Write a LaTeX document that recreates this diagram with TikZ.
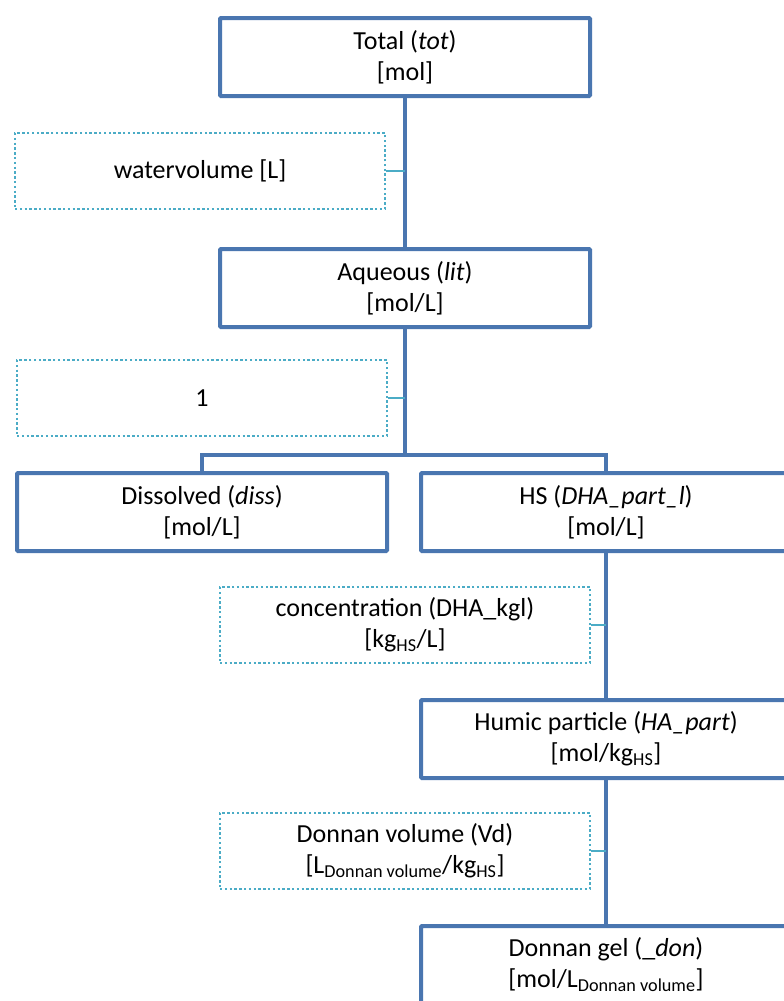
\documentclass[tikz,border=0pt]{standalone}
\usepackage{fontspec}
\setmainfont{Carlito}
\definecolor{mainblue}{RGB}{74,118,176}
\definecolor{dotblue}{RGB}{75,172,198}
\tikzset{
  mainbox/.style={draw=mainblue, line width=4pt, fill=white, rounded corners=1pt,
    minimum width=370pt, minimum height=78pt, align=center, inner sep=0pt,
    font=\fontsize{26}{31}\selectfont},
  dotbox/.style={draw=dotblue, line width=2.6pt, dash pattern=on 2.4pt off 2.4pt, fill=white,
    minimum width=370pt, minimum height=76pt, align=center, inner sep=0pt,
    font=\fontsize{26}{31}\selectfont},
  mainline/.style={draw=mainblue, line width=4pt},
  thinline/.style={draw=dotblue, line width=1.8pt}
}
\newcommand{\sbs}[1]{\textsubscript{#1}}
\begin{document}
\begin{tikzpicture}[x=1pt,y=-1pt]
\useasboundingbox (0,0) rectangle (784,1001);
\clip (0,0) rectangle (784,1001);
\fill[white] (0,0) rectangle (784,1001);
\coordinate (br) at (405,455);
\node[mainbox] (tot) at (405,57) {Total (\textit{tot})\\{}[mol]};
\node[mainbox] (aq) at (405,288) {Aqueous (\textit{lit})\\{}[mol/L]};
\node[mainbox] (diss) at (202,512) {Dissolved (\textit{diss})\\{}[mol/L]};
\node[mainbox] (hs) at (606,512) {HS (\textit{DHA\_part\_l})\\{}[mol/L]};
\node[mainbox] (hum) at (606,739) {Humic particle (\textit{HA\_part})\\{}[mol/kg\sbs{HS}]};
\node[mainbox] (don) at (606,965) {Donnan gel (\_\textit{don})\\{}[mol/L\sbs{Donnan volume}]};
\node[dotbox] (wv) at (200,171) {watervolume [L]};
\node[dotbox] (one) at (202,398) {1};
\node[dotbox] (conc) at (405,625) {concentration (DHA\_kgl)\\{}[kg\sbs{HS}/L]};
\node[dotbox] (vd) at (405,851) {Donnan volume (Vd)\\{}[L\sbs{Donnan volume}/kg\sbs{HS}]};
\draw[mainline] (tot.south) -- (aq.north);
\draw[mainline] (aq.south) -- (br);
\draw[mainline] (diss.north) |- (br) -| (hs.north);
\draw[mainline] (hs.south) -- (hum.north);
\draw[mainline] (hum.south) -- (don.north);
\draw[thinline] (wv.east) -- (wv.east -| tot.south);
\draw[thinline] (one.east) -- (one.east -| aq.south);
\draw[thinline] (conc.east) -- (conc.east -| hs.south);
\draw[thinline] (vd.east) -- (vd.east -| hum.south);
\end{tikzpicture}
\end{document}
